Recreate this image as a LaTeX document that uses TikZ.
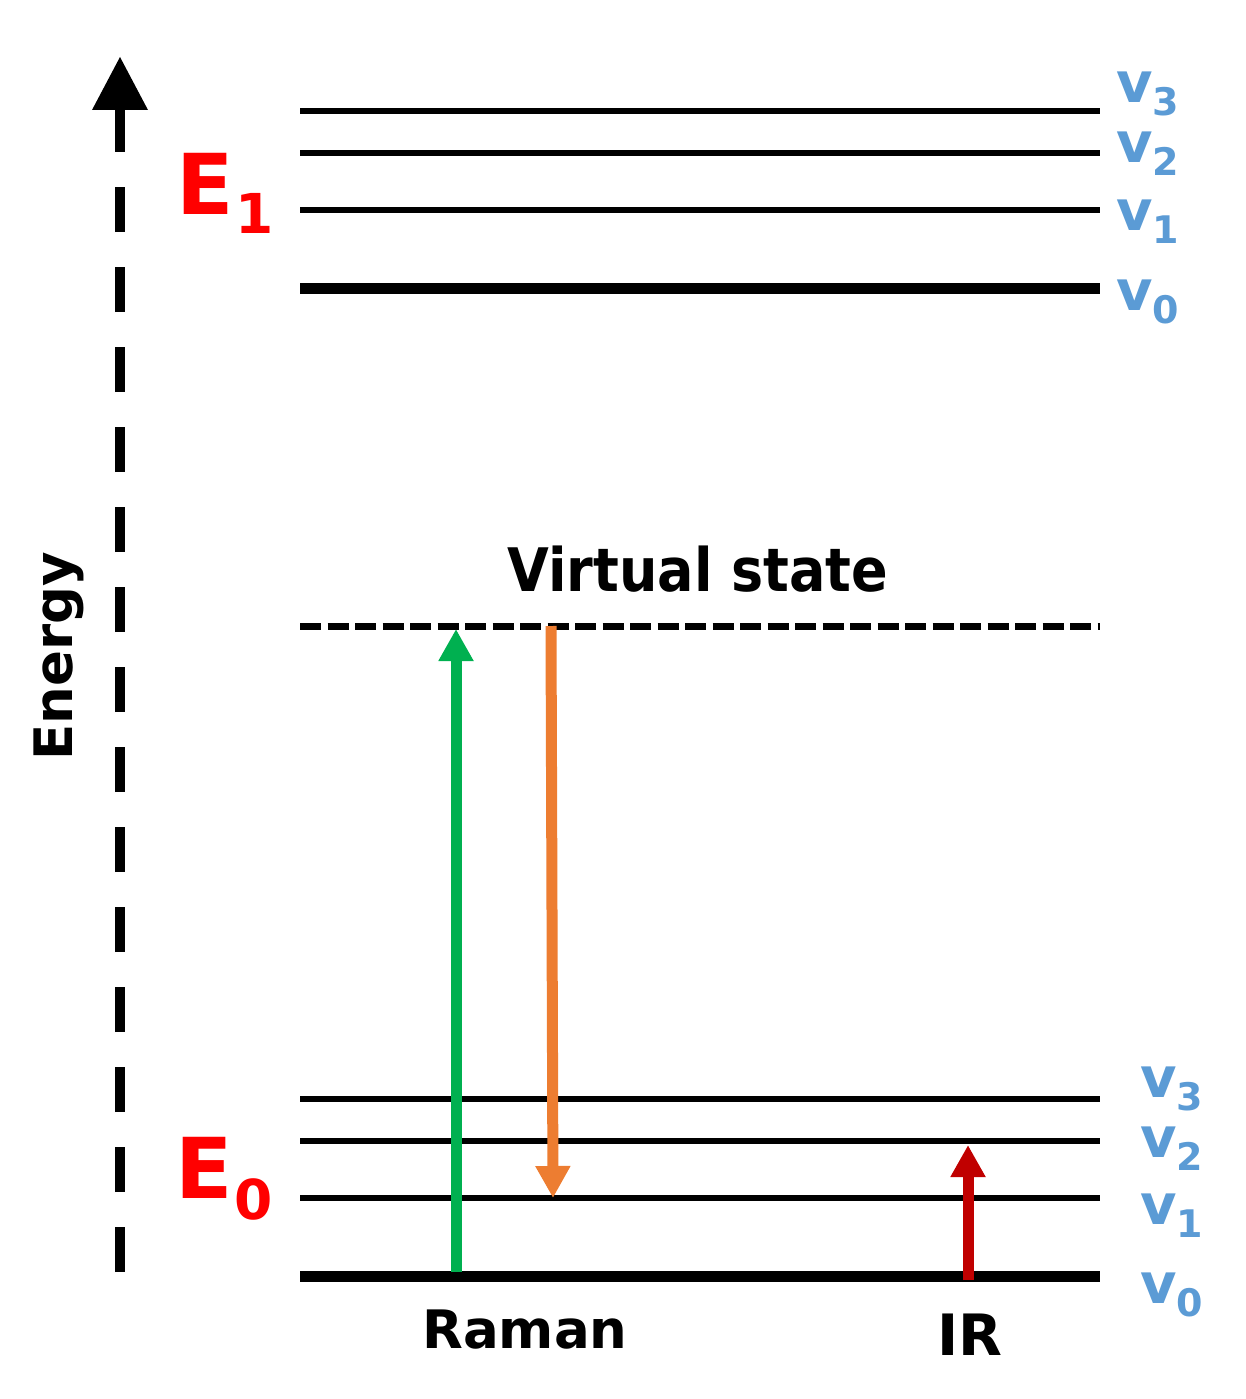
\documentclass[tikz,border=0pt]{standalone}
\usepackage{fontspec}
\setmainfont{DejaVu Sans}
\usetikzlibrary{arrows.meta}
\definecolor{ered}{HTML}{FF0000}
\definecolor{vblue}{HTML}{5B9BD5}
\definecolor{rgreen}{HTML}{00B050}
\definecolor{rorange}{HTML}{ED7D31}
\definecolor{irred}{HTML}{C00000}
\newcommand{\fsz}[1]{\fontsize{#1}{#1}\selectfont}
\tikzset{
  lvl/.style={line width=6.5pt, black},
  lvlz/.style={line width=11pt, black},
  vline/.style={line width=6.5pt, black, dash pattern=on 21pt off 6.5pt},
  axisline/.style={line width=10pt, black, dash pattern=on 45pt off 35pt},
  trans/.style={line width=11pt, -{Triangle[length=32pt,width=33pt]}},
  txt/.style={inner sep=0pt, font=\bfseries},
  elab/.style={txt, anchor=base west, text=ered},
  vlab/.style={txt, anchor=base west, text=vblue},
}
\begin{document}
\begin{tikzpicture}[x=1pt,y=-1pt]
\useasboundingbox (0,0) rectangle (1245,1399);
% energy axis
\coordinate (axb) at (120,1272);
\coordinate (axt) at (120,110);
\coordinate (axl) at (92,110);
\coordinate (axr) at (148,110);
\coordinate (axtip) at (120,57);
\draw[axisline] (axb) -- (axt);
\fill[black] (axl) -- (axtip) -- (axr) -- cycle;
\node[txt, rotate=90, anchor=base, font=\bfseries\fsz{53}] (energy) at (72,656) {Energy};
% levels
\foreach \n/\y/\s in {u3/111/lvl, u2/153/lvl, u1/210/lvl, u0/288/lvlz, l3/1099/lvl, l2/1141/lvl, l1/1198/lvl, l0/1276.5/lvlz}{
  \coordinate (\n a) at (300,\y);
  \coordinate (\n b) at (1100,\y);
  \draw[\s] (\n a) -- (\n b);
}
% virtual state
\coordinate (vsa) at (300,626.5);
\coordinate (vsb) at (1100,626.5);
\draw[vline] (vsa) -- (vsb);
\node[txt, anchor=base, font=\bfseries\fsz{60}] (vstxt) at (698,591) {\scalebox{0.9}[1]{Virtual state}};
% E labels
\node[elab] (E1) at (176,214) {\fsz{84}E\kern2pt\raisebox{-20pt}{\fsz{55}1}};
\node[elab] (E0) at (175,1198) {\fsz{84}E\kern2pt\raisebox{-21pt}{\fsz{55}0}};
% v labels upper
\node[vlab] (uv3) at (1116,103) {\fsz{56}v\raisebox{-13pt}{\fsz{38}3}};
\node[vlab] (uv2) at (1116,163) {\fsz{56}v\raisebox{-13pt}{\fsz{38}2}};
\node[vlab] (uv1) at (1116,230) {\fsz{56}v\raisebox{-13pt}{\fsz{38}1}};
\node[vlab] (uv0) at (1116,310) {\fsz{56}v\raisebox{-13pt}{\fsz{38}0}};
% v labels lower
\node[vlab] (lv3) at (1140,1097) {\fsz{56}v\raisebox{-13pt}{\fsz{38}3}};
\node[vlab] (lv2) at (1140,1157) {\fsz{56}v\raisebox{-13pt}{\fsz{38}2}};
\node[vlab] (lv1) at (1140,1224) {\fsz{56}v\raisebox{-13pt}{\fsz{38}1}};
\node[vlab] (lv0) at (1140,1303) {\fsz{56}v\raisebox{-13pt}{\fsz{38}0}};
% transitions
\coordinate (gs) at (456,1272);
\coordinate (ge) at (456,629);
\draw[trans, rgreen] (gs) -- (ge);
\coordinate (os) at (551,626);
\coordinate (oe) at (553,1198);
\draw[trans, rorange] (os) -- (oe);
\coordinate (rs) at (968,1280);
\coordinate (re) at (968,1145);
\draw[trans, irred] (rs) -- (re);
% bottom labels
\node[txt, anchor=base, font=\bfseries\fsz{53}] (raman) at (525,1348) {Raman};
\node[txt, anchor=base, font=\bfseries\fsz{57}] (ir) at (970,1355) {IR};
\end{tikzpicture}
\end{document}
